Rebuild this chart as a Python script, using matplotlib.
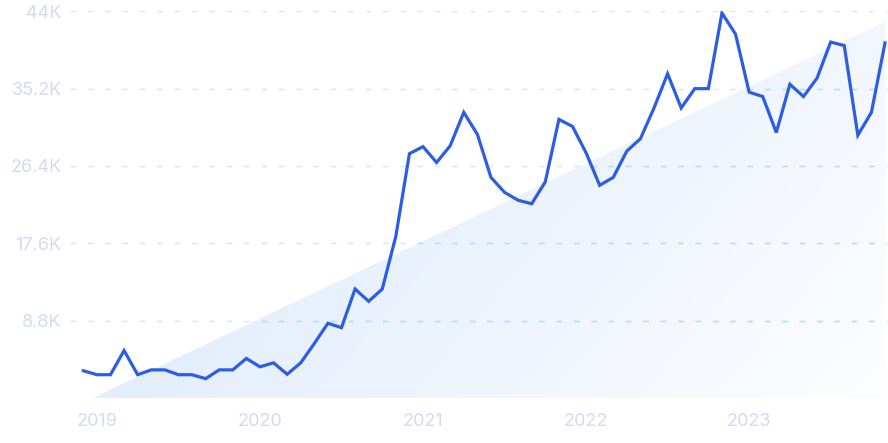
import numpy as np
import matplotlib
matplotlib.use("Agg")
import matplotlib.pyplot as plt
from matplotlib.patches import Polygon
from matplotlib.colors import LinearSegmentedColormap

plt.rcParams['font.family'] = ['Inter', 'DejaVu Sans']

# Monthly values (thousands), Dec 2018 .. Nov 2023
values = [3.1, 2.65, 2.65, 5.4, 2.65, 3.2, 3.2, 2.65, 2.65, 2.2, 3.2, 3.2,
          4.5, 3.55, 4.0, 2.7, 4.0, 6.2, 8.5, 8.0, 12.4, 11.0, 12.4, 18.4,
          27.8, 28.6, 26.8, 28.7, 32.5, 30.0, 25.1, 23.4, 22.5, 22.1, 24.6, 31.7,
          30.9, 27.9, 24.2, 25.1, 28.1, 29.5, 33.0, 36.9, 33.0, 35.2, 35.2, 43.8,
          41.4, 34.8, 34.3, 30.2, 35.7, 34.3, 36.4, 40.5, 40.1, 29.9, 32.5, 40.4]
year_labels = ['2019', '2020', '2021', '2022', '2023']
year_positions = [1, 13, 25, 37, 49]
y_ticks = [8.8, 17.6, 26.4, 35.2, 44.0]
y_tick_labels = ['8.8K', '17.6K', '26.4K', '35.2K', '44K']

W, H = 888, 443
fig = plt.figure(figsize=(W / 100, H / 100), dpi=100)
left_px, right_px, top_px, bottom_px = 70, 888, 11.3, 398
ax = fig.add_axes([left_px / W, 1 - bottom_px / H,
                   (right_px - left_px) / W, (bottom_px - top_px) / H])

n = len(values)
x = np.arange(n)
ax.set_xlim(-0.98, n - 1 + 0.22)
ax.set_ylim(0, 44)

# gradient triangle
tri_x0, tri_x1, tri_top = 0.7, n - 1, 42.8
tri = Polygon([[tri_x0, 0], [tri_x1, tri_top], [tri_x1, 0]], closed=True,
              facecolor='none', edgecolor='none')
ax.add_patch(tri)
gx = np.linspace(0, 1, 300)
gy = np.linspace(0, 1, 200)
GX, GY = np.meshgrid(gx, gy)
T = np.clip(0.85 * GX - 0.35 * GY + 0.08, 0, 1)
cmap = LinearSegmentedColormap.from_list('g', ['#e1ecfb', '#ffffff'])
im = ax.imshow(T, cmap=cmap, vmin=0, vmax=1, origin='lower', aspect='auto',
               extent=[tri_x0, tri_x1, 0, tri_top], zorder=1, interpolation='bilinear')
im.set_clip_path(tri)

# grid lines
ax.hlines(y_ticks, -0.98, n - 1 + 0.22, colors='#dbe3f6', linewidth=1.0,
          linestyles=(0, (4, 8.5)), zorder=2)
gl = ax.hlines(y_ticks, -0.98, n - 1 + 0.22, colors='#a9e1ff', linewidth=1.0,
               linestyles=(0, (4, 8.5)), zorder=2.5)
gl.set_clip_path(tri)

ax.plot(x, values, color='#2d5de2', linewidth=2.3, solid_joinstyle='miter',
        zorder=3)

for s in ax.spines.values():
    s.set_visible(False)
ax.set_yticks(y_ticks)
ax.set_yticklabels(y_tick_labels)
ax.set_xticks(year_positions)
ax.set_xticklabels(year_labels)
ax.tick_params(axis='both', length=0, labelsize=13, labelcolor='#d3dbf3')
ax.tick_params(axis='y', pad=6)
ax.tick_params(axis='x', pad=11)
ax.patch.set_alpha(0)

fig.savefig('out.png', dpi=100)
